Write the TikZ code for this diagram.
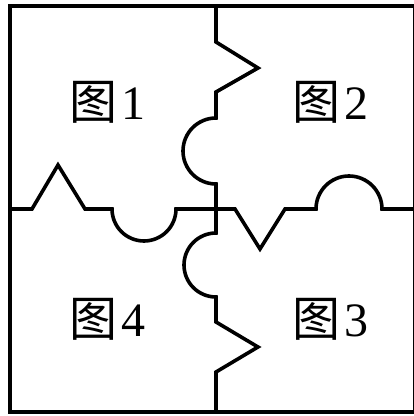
\documentclass[tikz,border=0pt]{standalone}
\usepackage{fontspec}
\setmainfont{Liberation Serif}
\newfontfamily\cjkfont{Noto Sans CJK SC}
\usetikzlibrary{calc}
\tikzset{
  frame/.style={line width=4pt},
  cut/.style={line width=3.6pt},
  piece/.style={inner sep=0pt,font=\fontsize{48}{48}\selectfont},
}
\newcommand{\tu}{{\cjkfont 图}\kern4pt}
\begin{document}
\begin{tikzpicture}[x=1pt,y=1pt]
\useasboundingbox (0,0) rectangle (414,416);
\draw[frame] (10,4) rectangle (415,410);
% vertical cut
\draw[cut] (216,410) -- (216,374) -- (258,348) -- (216,324) -- (216,298)
  arc[start angle=90,end angle=270,radius=33] -- (216,183)
  arc[start angle=90,end angle=270,radius=32] -- (216,94) -- (258,69) -- (216,44) -- (216,4);
% horizontal cut
\draw[cut] (10,207) -- (32,207) -- (58,251) -- (85,207) -- (112,207)
  arc[start angle=180,end angle=360,radius=32] -- (235,207) -- (260,167) -- (285,207) -- (316,207)
  arc[start angle=180,end angle=0,radius=33] -- (415,207);
\node[piece] (p1) at (108,314) {\tu 1};
\node[piece] (p2) at (330,314) {\tu 2};
\node[piece] (p3) at (330,97) {\tu 3};
\node[piece] (p4) at (108,97) {\tu 4};
\end{tikzpicture}
\end{document}
